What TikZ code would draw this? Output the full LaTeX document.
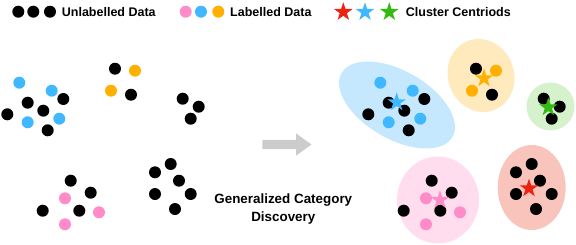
\documentclass[tikz,border=0pt]{standalone}
\usepackage{fontspec}
\setmainfont{Liberation Sans}
\usetikzlibrary{shapes.geometric,shapes.arrows}
\definecolor{lblue}{RGB}{64,184,255}
\definecolor{lorange}{RGB}{255,176,0}
\definecolor{lpink}{RGB}{255,140,200}
\definecolor{sred}{RGB}{238,34,17}
\definecolor{sgreen}{RGB}{51,187,17}
\definecolor{softblue}{RGB}{198,232,255}
\definecolor{softorange}{RGB}{255,234,190}
\definecolor{softgreen}{RGB}{214,242,204}
\definecolor{softpink}{RGB}{255,221,238}
\definecolor{softred}{RGB}{248,196,188}
\definecolor{arrowgray}{RGB}{204,204,204}

% all points of the toy data set, left part of the picture
\newcommand{\gcdpoints}{%
  \foreach \x/\y in {63.3/99,27.7/102.7,43.3/110.7,7.3/114.3,47.7/130.3,115/68.7,131/94.7,182.7/98.7,198.7/106.7,190.7/118.7,70.7/180.7,90.7/192.7,42.7/210.7,79.3/210.7,170.7/164,155/172.3,179/180.7,155/194,190.7/194,175/209}
    \fill[black] (\x,\y) circle (6pt);
  \foreach \x/\y in {19.3/82.7,51.7/90.7,27.7/122.3,59.3/118.7} \fill[lblue] (\x,\y) circle (6pt);
  \foreach \x/\y in {135/70.7,111/90.7} \fill[lorange] (\x,\y) circle (6pt);
  \foreach \x/\y in {65/198.3,99/212.3,65/224.3} \fill[lpink] (\x,\y) circle (6pt);
}

\begin{document}
\begin{tikzpicture}[x=1pt,y=-1pt,
  every node/.style={font=\bfseries\fontsize{12.5}{15}\selectfont},
  centroid/.style={star,star points=5,star point ratio=2.6,minimum size=19.5pt,inner sep=0pt}]
\useasboundingbox (0,0) rectangle (576,244);
% legend
\foreach \x in {18.3,33.3,50} \fill[black] (\x,11.7) circle (6pt);
\node[anchor=west,inner sep=0pt] (unl) at (61.7,11.7) {Unlabelled Data};
\fill[lpink] (185.7,11.7) circle (6pt); \fill[lblue] (201,11.7) circle (6pt); \fill[lorange] (218.3,11.7) circle (6pt);
\node[anchor=west,inner sep=0pt] (lab) at (230,11.7) {Labelled Data};
\node[centroid,fill=sred] (s1) at (343.3,12) {};
\node[centroid,fill=lblue] (s2) at (365,12) {};
\node[centroid,fill=sgreen] (s3) at (389.3,12) {};
\node[anchor=west,inner sep=0pt] (cen) at (405.7,11.7) {Cluster Centriods};
% before
\gcdpoints
\node[single arrow,fill=arrowgray,minimum height=49pt,minimum width=22pt,single arrow head extend=6.5pt,single arrow tip angle=72,inner xsep=0pt,inner ysep=4.5pt] (arr) at (283.7,144.5) {};
\node[align=center,font=\bfseries\fontsize{13.4}{18.3}\selectfont] (gcd) at (283.3,209) {Generalized Category\\Discovery};
% after
\fill[softblue,rotate around={-30:(397,105)}] (397,105) ellipse (64pt and 34pt);
\fill[softorange,rotate around={20:(481,75.5)}] (481,75.5) ellipse (33pt and 37pt);
\fill[softgreen] (550.5,106.5) circle (24pt);
\fill[softpink] (438,200) ellipse (41pt and 43.5pt);
\fill[softred] (531.7,187.5) ellipse (34pt and 42.5pt);
\begin{scope}[xshift=361pt]
\gcdpoints
\end{scope}
\node[centroid,fill=lblue] (cb) at (396.7,102.3) {};
\node[centroid,fill=lorange] (co) at (484,78.3) {};
\node[centroid,fill=sgreen] (cg) at (548.3,107.3) {};
\node[centroid,fill=lpink] (cp) at (440,200) {};
\node[centroid,fill=sred] (cr) at (529,188.3) {};
\end{tikzpicture}
\end{document}
